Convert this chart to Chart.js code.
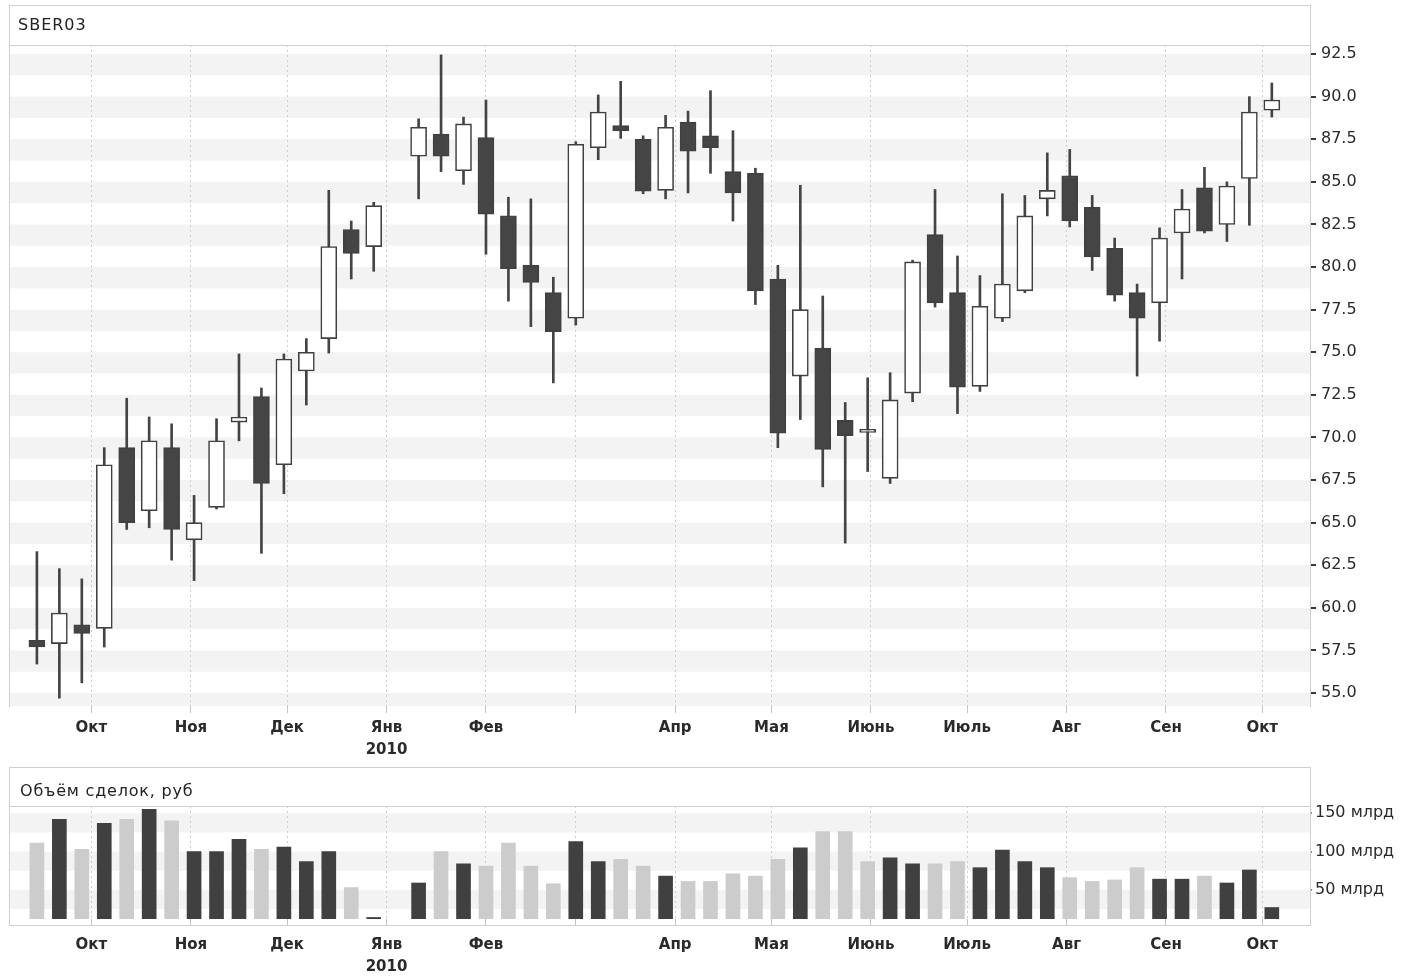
<!DOCTYPE html>
<html><head><meta charset="utf-8">
<script src="https://cdn.jsdelivr.net/npm/chart.js@4/dist/chart.umd.min.js"></script>
<style>
html,body{margin:0;padding:0;background:#fff;}
#wrap{position:relative;width:1408px;height:978px;overflow:hidden;font-family:"DejaVu Sans",sans-serif;}
canvas{position:absolute;left:0;}
.ln{position:absolute;background:#cfcfcf;pointer-events:none;}
.ttl{position:absolute;color:#222;white-space:nowrap;line-height:1;}
</style></head><body>
<div id="wrap">
<canvas id="priceChart" width="1408" height="760" style="top:0"></canvas>
<canvas id="volChart" width="1408" height="218" style="top:760px"></canvas>
<!-- price panel frame -->
<div class="ln" style="left:9px;top:5px;width:1302px;height:1px"></div>
<div class="ln" style="left:9px;top:45px;width:1302px;height:1px"></div>
<div class="ln" style="left:9px;top:5px;width:1px;height:702px"></div>
<div class="ln" style="left:1310px;top:5px;width:1px;height:41px"></div>
<div class="ttl" style="left:18px;top:17px;font-size:16px;letter-spacing:1px">SBER03</div>
<!-- volume panel frame -->
<div class="ln" style="left:9px;top:767px;width:1302px;height:1px"></div>
<div class="ln" style="left:9px;top:806px;width:1302px;height:1px"></div>
<div class="ln" style="left:9px;top:767px;width:1px;height:159px"></div>
<div class="ln" style="left:1310px;top:767px;width:1px;height:159px"></div>
<div class="ln" style="left:9px;top:925px;width:1302px;height:1px"></div>
<div class="ttl" style="left:20px;top:783px;font-size:16px;letter-spacing:0.8px">Объём сделок, руб</div>
</div>
<script>
// ---- data ----
const weekDates = [
 '2009-09-14','2009-09-21','2009-09-28','2009-10-05','2009-10-12','2009-10-19','2009-10-26',
 '2009-11-02','2009-11-09','2009-11-16','2009-11-23','2009-11-30','2009-12-07','2009-12-14',
 '2009-12-21','2009-12-28',
 '2010-01-11','2010-01-18','2010-01-25','2010-02-01','2010-02-08','2010-02-15','2010-02-22',
 '2010-03-01','2010-03-08','2010-03-15','2010-03-22','2010-03-29','2010-04-05','2010-04-12',
 '2010-04-19','2010-04-26','2010-05-03','2010-05-10','2010-05-17','2010-05-24','2010-05-31',
 '2010-06-07','2010-06-14','2010-06-21','2010-06-28','2010-07-05','2010-07-12','2010-07-19',
 '2010-07-26','2010-08-02','2010-08-09','2010-08-16','2010-08-23','2010-08-30','2010-09-06',
 '2010-09-13','2010-09-20','2010-09-27','2010-10-04'
];
const openP  = [58.1,57.9,59.0,58.8,69.4,65.7,69.4,64.0,65.9,70.9,72.4,68.4,73.9,75.8,82.2,81.2,
 86.5,87.8,85.65,87.6,83.0,80.1,78.5,77.0,87.0,88.3,87.5,84.5,88.5,87.7,85.6,85.5,79.3,73.6,75.25,
 71.0,70.3,67.6,72.6,81.9,78.5,73.0,77.0,78.6,84.0,85.35,83.5,81.1,78.5,77.9,82.0,84.65,82.5,85.2,89.2];
const highP  = [63.3,62.3,61.7,69.4,72.3,71.2,70.8,66.6,71.1,74.9,72.9,74.9,75.8,84.5,82.7,83.8,
 88.7,92.45,88.8,89.8,84.1,84.0,79.4,87.35,90.1,90.9,87.7,88.9,89.15,90.35,88.0,85.8,80.1,84.8,78.3,
 72.05,73.5,73.8,80.4,84.55,80.65,79.5,84.3,84.2,86.7,86.9,84.2,81.7,79.0,82.3,84.55,85.85,85.0,90.0,90.8];
const lowP   = [56.7,54.7,55.6,57.7,64.6,64.7,62.8,61.6,65.8,69.8,63.2,66.7,71.9,74.95,79.3,79.75,
 84.0,85.6,84.85,80.75,78.0,76.5,73.2,76.6,86.3,87.55,84.3,84.0,84.35,85.5,82.7,77.8,69.4,71.05,67.1,
 63.8,68.0,67.3,72.1,77.65,71.4,72.7,76.8,78.5,83.0,82.35,79.8,78.0,73.6,75.65,79.3,82.0,81.5,82.45,88.8];
const closeP = [57.7,59.7,58.5,68.4,65.0,69.8,64.6,65.0,69.8,71.2,67.3,74.6,75.0,81.2,80.8,83.6,
 88.2,86.5,88.4,83.1,79.9,79.1,76.2,87.2,89.1,88.0,84.45,88.2,86.8,87.0,84.35,78.6,70.25,77.5,69.3,
 70.1,70.3,72.2,80.3,77.9,72.95,77.7,79.0,83.0,84.5,82.7,80.6,78.35,77.0,81.7,83.4,82.1,84.75,89.1,89.8];
const volumeBn = [111,142,103,137,142,155,140,100,100,116,103,106,87,100,53,14,
 59,100,84,81,111,81,58,113,87,90,81,68,61,61,71,68,90,105,126,126,87,92,84,84,87,79,102,87,79,
 66,61,63,79,64,64,68,59,76,27];
const monthTickDates = ['2009-10-01','2009-11-01','2009-12-01','2010-01-01','2010-02-01','2010-03-01',
 '2010-04-01','2010-05-01','2010-06-01','2010-07-01','2010-08-01','2010-09-01','2010-10-01'];
const monthLabels = ['Окт','Ноя','Дек',['Янв','2010'],'Фев','','Апр','Мая','Июнь','Июль','Авг','Сен','Окт'];
const priceTicks = [55.0,57.5,60.0,62.5,65.0,67.5,70.0,72.5,75.0,77.5,80.0,82.5,85.0,87.5,90.0,92.5];
const volumeTicks = [50,100,150];

// ---- helpers ----
const ORIGIN = Date.UTC(2009,8,14);
const dayOf = s => (Date.parse(s + 'T00:00:00Z') - ORIGIN) / 864e5;
const weekX = weekDates.map(dayOf);
const monthX = monthTickDates.map(dayOf);
const rising = i => closeP[i] > openP[i];

const stripes = {
  id: 'stripes',
  beforeDraw(chart, args, opts) {
    const {ctx, chartArea: a, scales: {y}} = chart;
    ctx.save();
    ctx.beginPath(); ctx.rect(a.left, 0, a.right - a.left, a.bottom + (opts.extra || 0)); ctx.clip();
    ctx.fillStyle = opts.color;
    opts.values.forEach(v => {
      const y1 = y.getPixelForValue(v), y2 = y.getPixelForValue(v - opts.half);
      ctx.fillRect(a.left, Math.min(y1, y2), a.right - a.left, Math.abs(y2 - y1));
    });
    ctx.restore();
  }
};

Chart.defaults.font.family = '"DejaVu Sans", sans-serif';
Chart.defaults.color = '#2a2a2a';

function xScale(h, pad) {
  return {
    type: 'linear', min: -8.7, max: 396.9, offset: false,
    afterBuildTicks: s => { s.ticks = monthX.map(v => ({value: v})); },
    afterFit: s => { s.height = h; },
    ticks: {
      autoSkip: false, maxRotation: 0, padding: pad,
      font: {size: 15, weight: 'bold', lineHeight: 1.45}, color: '#2a2a2a',
      callback: (v, i) => monthLabels[i]
    },
    grid: {color: '#cdcdcd', lineWidth: 1, offset: false, drawTicks: true, tickLength: 7, tickColor: '#c4c4c4'},
    border: {display: false, dash: [2, 3]}
  };
}

new Chart(document.getElementById('priceChart'), {
  type: 'bar',
  data: {
    datasets: [
      {
        label: 'wick',
        data: weekX.map((x, i) => ({x, y: [lowP[i], highP[i]]})),
        backgroundColor: '#444', borderWidth: 0, barThickness: 2, grouped: false, order: 2
      },
      {
        label: 'body',
        data: weekX.map((x, i) => ({x, y: [openP[i], closeP[i]]})),
        backgroundColor: c => closeP[c.dataIndex] >= openP[c.dataIndex] ? '#ffffff' : '#454545',
        borderColor: '#404040', borderWidth: 1.6, borderSkipped: false,
        barThickness: 16, minBarLength: 3, grouped: false, order: 1
      }
    ]
  },
  options: {
    responsive: false, animation: false, devicePixelRatio: 1,
    layout: {padding: {left: 9, top: 45, right: 0, bottom: 0}},
    plugins: {legend: {display: false}, tooltip: {enabled: false},
      stripes: {values: priceTicks, half: 1.25, color: '#f3f3f3'}},
    scales: {
      x: xScale(54, 4),
      y: {
        position: 'right', min: 54.24, max: 93.03,
        afterBuildTicks: s => { s.ticks = priceTicks.map(v => ({value: v})); },
        afterFit: s => { s.width = 98; },
        ticks: {font: {size: 16}, color: '#2a2a2a', padding: 5, callback: v => Number(v).toFixed(1)},
        grid: {drawOnChartArea: false, drawTicks: true, tickLength: 6, tickColor: '#3a3a3a', lineWidth: 2},
        border: {display: true, color: '#cfcfcf', width: 1}
      }
    }
  },
  plugins: [stripes]
});

new Chart(document.getElementById('volChart'), {
  type: 'bar',
  data: {
    datasets: [{
      label: 'volume',
      data: weekX.map((x, i) => ({x, y: volumeBn[i]})),
      backgroundColor: c => rising(c.dataIndex) ? '#404040' : '#cccccc',
      borderWidth: 0, barThickness: 14, grouped: false
    }]
  },
  options: {
    responsive: false, animation: false, devicePixelRatio: 1,
    layout: {padding: {left: 9, top: 46, right: 0, bottom: 0}},
    plugins: {legend: {display: false}, tooltip: {enabled: false},
      stripes: {values: volumeTicks, half: 25, color: '#f3f3f3', extra: 6}},
    scales: {
      x: xScale(59, 8),
      y: {
        position: 'right', min: 12, max: 159.5,
        afterBuildTicks: s => { s.ticks = volumeTicks.map(v => ({value: v})); },
        afterFit: s => { s.width = 98; },
        ticks: {font: {size: 16}, color: '#2a2a2a', padding: 3, callback: v => v + ' млрд'},
        grid: {drawOnChartArea: false, drawTicks: true, tickLength: 2, tickColor: '#888', lineWidth: 2},
        border: {display: true, color: '#cfcfcf', width: 1}
      }
    }
  },
  plugins: [stripes]
});
</script>
</body></html>
